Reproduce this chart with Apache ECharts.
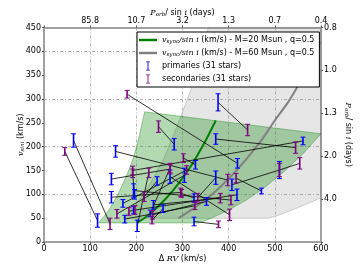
<!DOCTYPE html>
<html><head><meta charset="utf-8">
<script src="https://cdn.jsdelivr.net/npm/echarts@6/dist/echarts.min.js"></script>
<style>html,body{margin:0;padding:0;background:#fff}#c{width:360px;height:270px}</style>
</head><body><div id="c"></div>
<script>
// ---------- data ----------
const topTickLabels = ['', '85.8', '10.7', '3.2', '1.3', '0.7', '0.4'];
const rightTickLabels = ['', '4.0', '2.0', '1.3', '1.0', '0.8'];

// primaries (blue): dRV, vsini, error
const primX = [116, 64, 419, 282, 377, 372, 561, 155, 510, 471, 146, 146, 171, 175, 194, 194, 202, 237, 245, 273, 304, 328, 325, 352, 372, 407, 418, 325, 196, 258, 230];
const primY = [45, 213, 165, 205, 293, 216, 212, 190, 151, 107, 132, 94, 81, 48, 67, 108, 34, 78, 128, 137, 140, 162, 43, 85, 135, 120, 99, 92, 100, 70, 60];
const primE = [14, 14, 10, 12, 18, 11, 8, 12, 18, 6, 12, 12, 8, 8, 8, 14, 12, 9, 9, 14, 15, 9, 9, 8, 14, 12, 12, 9, 10, 8, 7];
// secondaries (purple), same order as the primaries they are joined to
const secX = [45, 143, 180, 248, 441, 545, 192, 398, 554, 416, 273, 296, 309, 327, 184, 405, 227, 382, 217, 402, 158, 302, 378, 235, 333, 510, 197, 298, 192, 234, 273];
const secY = [190, 38, 310, 242, 235, 198, 150, 130, 165, 134, 153, 104, 151, 76, 64, 88, 145, 92, 95, 57, 59, 176, 37, 57, 93, 151, 67, 102, 144, 46, 155];
const secE = [8, 12, 8, 12, 12, 12, 9, 12, 12, 10, 10, 9, 9, 8, 8, 10, 10, 10, 10, 12, 9, 9, 7, 9, 9, 14, 9, 8, 9, 8, 10];

// shaded regions (polygon vertices: dRV, vsini)
const greenRegionX = [118, 336, 360, 400, 440, 480, 520, 560, 600, 218, 207, 195, 180, 160, 140];
const greenRegionY = [40, 40, 49, 67, 89, 116, 148, 184, 227, 273, 225, 180, 142, 99, 66];
const grayRegionX = [171, 200, 230, 260, 287, 310, 330, 356, 600, 600, 570, 540, 510, 487];
const grayRegionY = [50, 80, 122, 176, 240, 298, 350, 450, 450, 93, 80, 68, 57, 50];

// v_sync curves
const curve20X = [202, 220, 240, 260, 280, 300, 320, 340, 355, 372];
const curve20Y = [41, 52, 68, 87, 109, 134, 162, 195, 222, 255];
const curve60X = [291, 320, 350, 380, 410, 440, 470, 500, 530, 552, 580, 600];
const curve60Y = [50, 68, 89, 114, 143, 176, 212, 255, 295, 331, 380, 420];

// ---------- chart ----------
const chart = echarts.init(document.getElementById('c'), null, {renderer: 'canvas', width: 360, height: 270});
const FONT = 'DejaVu Sans';
const gridLineStyle = {color: '#b4b4b4', width: 1, type: [3, 2, 1, 2]};
const axisLineStyle = {color: '#a0a0a0', width: 2};
const tickStyle = {show: true, length: 2, lineStyle: {color: '#555', width: 1}};
const labelStyle = {fontSize: 8, color: '#000', fontFamily: FONT, margin: 3};
const richBase = {
  n: {fontSize: 8, fontFamily: FONT, color: '#000'},
  i: {fontSize: 8, fontFamily: 'DejaVu Serif', fontStyle: 'italic', color: '#000'},
  sub: {fontSize: 5.5, fontFamily: 'DejaVu Serif', fontStyle: 'italic', color: '#000', padding: [4, 0, 0, 0]}
};

function regionRender(xs, ys, fill, stroke) {
  return function (params, api) {
    if (params.dataIndex !== 0) return;
    const pts = xs.map((x, k) => api.coord([x, ys[k]]));
    return {type: 'polygon', shape: {points: pts}, style: {fill: fill, stroke: stroke, lineWidth: 1}};
  };
}
function errRender(color) {
  return function (params, api) {
    const x = api.value(0), y = api.value(1), e = api.value(2);
    const t = api.coord([x, y + e]), b = api.coord([x, y - e]);
    const cw = 2.5;
    return {type: 'group', children: [
      {type: 'line', shape: {x1: t[0], y1: t[1], x2: b[0], y2: b[1]}, style: {stroke: color, lineWidth: 1.6}},
      {type: 'line', shape: {x1: t[0] - cw, y1: t[1], x2: t[0] + cw, y2: t[1]}, style: {stroke: color, lineWidth: 1}},
      {type: 'line', shape: {x1: b[0] - cw, y1: b[1], x2: b[0] + cw, y2: b[1]}, style: {stroke: color, lineWidth: 1}}
    ]};
  };
}
const zip = (a, b) => a.map((v, k) => [v, b[k]]);
const zip3 = (a, b, c) => a.map((v, k) => [v, b[k], c[k]]);
const pairLines = primX.map((x, k) => ({coords: [[x, primY[k]], [secX[k], secY[k]]]}));

const legendNames = {
  m20: '{i|v}{sub|sync}{i|/sin i}{n| (km/s) - M=20 Msun , q=0.5}',
  m60: '{i|v}{sub|sync}{i|/sin i}{n| (km/s) - M=60 Msun , q=0.5}',
  prim: '{n|primaries (31 stars)}',
  sec: '{n|secondaries (31 stars)}'
};
const errIcon = 'path://M0,0 H6 V1 H3.7 V13 H6 V14 H0 V13 H2.3 V1 H0 Z';
const lineIcon = 'path://M0,0 H20 V2.7 H0 Z';

const option = {
  animation: false,
  backgroundColor: '#fff',
  textStyle: {fontFamily: FONT},
  grid: {left: 44, right: 36, top: 27.5, bottom: 28},
  legend: {
    orient: 'vertical', left: 137, top: 32,
    padding: [3, 5, 3, 2], itemGap: 3, itemWidth: 18, itemHeight: 9,
    backgroundColor: '#fff', borderColor: '#000', borderWidth: 1,
    data: [{name: 'm20', icon: lineIcon}, {name: 'm60', icon: lineIcon}, {name: 'prim', icon: errIcon}, {name: 'sec', icon: errIcon}],
    formatter: name => legendNames[name],
    textStyle: {fontSize: 8, color: '#000', lineHeight: 10, rich: richBase}
  },
  xAxis: [
    {type: 'value', position: 'bottom', min: 0, max: 600, interval: 100,
      axisLine: {show: true, onZero: false, lineStyle: axisLineStyle}, axisTick: tickStyle,
      axisLabel: labelStyle, splitLine: {show: true, lineStyle: gridLineStyle},
      name: '{n|Δ }{i|RV}{n| (km/s)}', nameLocation: 'middle', nameGap: 13, nameMoveOverlap: false,
      nameTextStyle: {rich: richBase}},
    {type: 'value', position: 'top', min: 0, max: 600, interval: 100,
      axisLine: {show: true, onZero: false, lineStyle: axisLineStyle}, axisTick: tickStyle,
      axisLabel: Object.assign({}, labelStyle, {formatter: v => topTickLabels[Math.round(v / 100)]}),
      splitLine: {show: false},
      name: '{i|P}{sub|orb}{n|/ sin }{i|i}{n| (days)}', nameLocation: 'middle', nameGap: 10, nameMoveOverlap: false,
      nameTextStyle: {rich: richBase}}
  ],
  yAxis: [
    {type: 'value', position: 'left', min: 0, max: 450, interval: 50,
      axisLine: {show: true, onZero: false, lineStyle: axisLineStyle}, axisTick: tickStyle,
      axisLabel: labelStyle, splitLine: {show: false},
      name: '{i|v}{sub|sini}{n| (km/s)}', nameLocation: 'middle', nameGap: 18, nameMoveOverlap: false,
      nameTextStyle: {rich: richBase}},
    {type: 'value', position: 'right', min: 0, max: 450, interval: 90,
      axisLine: {show: true, onZero: false, lineStyle: axisLineStyle}, axisTick: tickStyle,
      axisLabel: Object.assign({}, labelStyle, {formatter: v => rightTickLabels[Math.round(v / 90)]}),
      splitLine: {show: false},
      name: '{i|P}{sub|orb}{n|/ sin }{i|i}{n| (days)}', nameLocation: 'middle', nameGap: 22, nameRotate: -90, nameMoveOverlap: false,
      nameTextStyle: {rich: richBase}},
    {type: 'value', position: 'left', min: 0, max: 450, interval: 100,
      axisLine: {show: false}, axisTick: {show: false}, axisLabel: {show: false},
      splitLine: {show: true, lineStyle: gridLineStyle}}
  ],
  series: [
    {type: 'custom', name: 'grayRegion', z: 1, silent: true, data: zip(grayRegionX, grayRegionY),
      encode: {x: 0, y: 1}, renderItem: regionRender(grayRegionX, grayRegionY, 'rgba(128,128,128,0.2)', 'rgba(128,128,128,0.35)')},
    {type: 'custom', name: 'greenRegion', z: 2, silent: true, data: zip(greenRegionX, greenRegionY),
      encode: {x: 0, y: 1}, renderItem: regionRender(greenRegionX, greenRegionY, 'rgba(0,128,0,0.3)', 'rgba(0,128,0,0.35)')},
    {type: 'line', name: 'm60', z: 3, data: zip(curve60X, curve60Y), symbol: 'none', smooth: 0.3,
      lineStyle: {color: '#808080', width: 2}, itemStyle: {color: '#808080'}},
    {type: 'line', name: 'm20', z: 3, data: zip(curve20X, curve20Y), symbol: 'none', smooth: 0.3,
      lineStyle: {color: '#008000', width: 2}, itemStyle: {color: '#008000'}},
    {type: 'lines', name: 'pairs', z: 4, coordinateSystem: 'cartesian2d', data: pairLines,
      lineStyle: {color: '#000', width: 0.8, opacity: 1}},
    {type: 'custom', name: 'prim', z: 5, data: zip3(primX, primY, primE), encode: {x: 0, y: 1},
      itemStyle: {color: '#0000ff'}, renderItem: errRender('#0000ff')},
    {type: 'custom', name: 'sec', z: 6, data: zip3(secX, secY, secE), encode: {x: 0, y: 1},
      itemStyle: {color: '#800080'}, renderItem: errRender('#800080')}
  ]
};
chart.setOption(option);
</script></body></html>
